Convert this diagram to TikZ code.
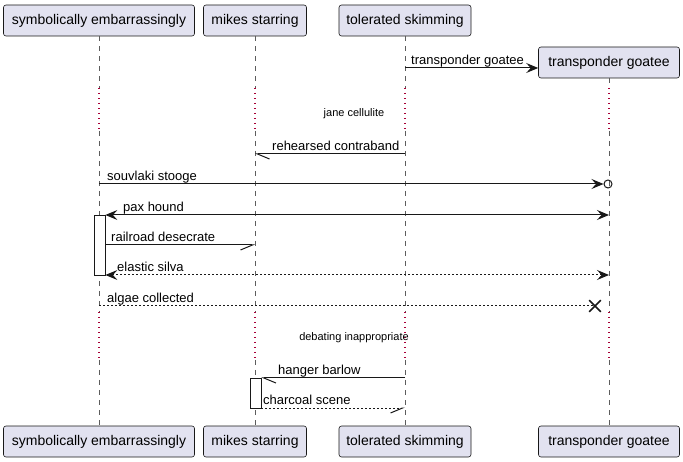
\documentclass[tikz,border=0pt]{standalone}
\usepackage{fontspec}
\setmainfont{Liberation Sans}
\usetikzlibrary{arrows.meta,shapes.misc}
\definecolor{partfill}{HTML}{E2E2F0}
\definecolor{ink}{HTML}{181818}
\definecolor{delayred}{HTML}{A80036}
\begin{document}
\begin{tikzpicture}[x=1pt,y=-1pt,
	part/.style={draw=ink,fill=partfill,rounded corners=2.5pt,line width=0.6pt,minimum height=31pt,inner sep=0pt,font=\fontsize{14}{16}\selectfont},
	life/.style={draw=ink!70,line width=0.5pt,dash pattern=on 5pt off 5pt},
	delay/.style={draw=delayred,line width=1.2pt,dash pattern=on 1.5pt off 3.5pt},
	lbl/.style={anchor=base west,inner sep=0pt,font=\fontsize{13}{15}\selectfont},
	dlbl/.style={inner sep=0pt,font=\fontsize{11}{13}\selectfont},
	msg/.style={draw=ink,line width=1pt},
	back/.style={msg,dash pattern=on 2pt off 2pt},
	full/.style={-{Stealth[length=12pt,width=10pt,inset=4.5pt]}},
	both/.style={{Stealth[length=12pt,width=10pt,inset=4.5pt]}-{Stealth[length=12pt,width=10pt,inset=4.5pt]}},
	half/.style={-{Straight Barb[harpoon,length=12pt,width=10pt]}},
	halfr/.style={-{Straight Barb[harpoon,swap,length=12pt,width=10pt]}},
	bar/.style={draw=ink,fill=white,line width=0.8pt,minimum width=11pt,inner sep=0pt}]
	\useasboundingbox (0,0) rectangle (683,462);
		\node[part,minimum width=191pt] (symT) at (99,20.5) {symbolically embarrassingly};
		\node[part,minimum width=103pt] (mikT) at (255,20.5) {mikes starring};
		\node[part,minimum width=132pt] (tolT) at (405,20.5) {tolerated skimming};
		\node[part,minimum width=141pt] (traT) at (609,62.5) {transponder goatee};
		\node[part,minimum width=191pt] (symB) at (99,441.5) {symbolically embarrassingly};
		\node[part,minimum width=103pt] (mikB) at (255,441.5) {mikes starring};
		\node[part,minimum width=132pt] (tolB) at (405,441.5) {tolerated skimming};
		\node[part,minimum width=141pt] (traB) at (609,441.5) {transponder goatee};
		\coordinate (dA) at (0,88);
		\coordinate (dB) at (0,131);
		\coordinate (dC) at (0,312);
		\coordinate (dD) at (0,360);
		\foreach \p in {sym,mik,tol,tra}{
			\draw[life] (\p T.south) -- (\p T.south |- dA);
			\draw[delay] (\p T.south |- dA) -- (\p T.south |- dB);
			\draw[life] (\p T.south |- dB) -- (\p T.south |- dC);
			\draw[delay] (\p T.south |- dC) -- (\p T.south |- dD);
			\draw[life] (\p T.south |- dD) -- (\p B.north);
		}
		\node[bar,minimum height=60pt] (symA) at (99.5,245) {};
		\node[bar,minimum height=30pt] (mikA) at (255.5,393) {};
		\coordinate (m1) at (0,68);
		\coordinate (m2) at (0,154);
		\coordinate (m3) at (0,184);
		\coordinate (m4) at (0,215);
		\coordinate (m5) at (0,245);
		\coordinate (m6) at (0,275);
		\coordinate (m7) at (0,306);
		\coordinate (m8) at (0,378);
		\coordinate (m9) at (0,408);
		\node[circle,draw=ink,line width=1pt,minimum size=8pt,inner sep=0pt] (ring) at (608,184) {};
		\node[cross out,draw=ink,line width=1.6pt,minimum size=10pt,inner sep=0pt] (kill) at (595,306) {};
		\draw[msg,full] (tolT.south |- m1) -- (traT.west |- m1);
		\node[lbl] (t1) at (411,64.5) {transponder goatee};
		\node[dlbl] (j1) at (354,114) {jane cellulite};
		\draw[msg,half] (tolT.south |- m2) -- (mikT.south |- m2);
		\node[lbl] (t2) at (272,150.5) {rehearsed contraband};
		\draw[msg,full] (symT.south |- m3) -- (ring.west);
		\node[lbl] (t3) at (107,180.5) {souvlaki stooge};
		\draw[msg,both] (symA.east |- m4) -- (traT.south |- m4);
		\node[lbl] (t4) at (123,211.5) {pax hound};
		\draw[msg,halfr] (symA.east |- m5) -- (mikT.south |- m5);
		\node[lbl] (t5) at (111,241.5) {railroad desecrate};
		\draw[back,both] (symA.east |- m6) -- (traT.south |- m6);
		\node[lbl] (t6) at (117,271.5) {elastic silva};
		\draw[back] (symT.south |- m7) -- (kill.center);
		\node[lbl] (t7) at (107,302.5) {algae collected};
		\node[dlbl] (j2) at (354,338) {debating inappropriate};
		\draw[msg,half] (tolT.south |- m8) -- (mikA.east |- m8);
		\node[lbl] (t8) at (278,374.5) {hanger barlow};
		\draw[back,halfr] (mikA.east |- m9) -- (tolT.south |- m9);
		\node[lbl] (t9) at (263,404.5) {charcoal scene};
\end{tikzpicture}
\end{document}
